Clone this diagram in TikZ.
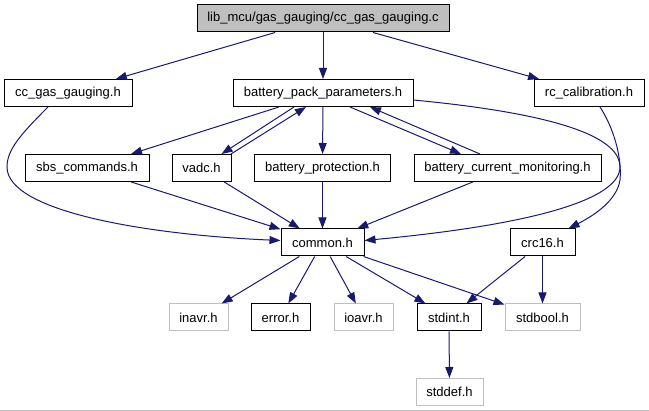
\documentclass[tikz,border=0pt]{standalone}
\usepackage{fontspec}
\setmainfont{Liberation Sans}
\usetikzlibrary{arrows.meta}
\definecolor{edgeblue}{HTML}{191970}
\definecolor{sysgray}{HTML}{BFBFBF}
\tikzstyle{every node}=[rectangle, draw=black, line width=1pt,
	                        inner sep=0pt, minimum height=27pt,
	                        font=\fontsize{13}{15}\selectfont]
\tikzstyle{sys}=[draw=sysgray]
\tikzstyle{incl}=[draw=edgeblue, line width=1pt,
	                  -{Triangle[length=11pt,width=8pt]}]

\begin{document}
\begin{tikzpicture}[x=1pt,y=-1pt]
\useasboundingbox (0,0) rectangle (649,411);
\draw[sysgray] (0,410.5) -- (649,410.5);
% files
\node (ccfile) at (323,18.5) [fill=sysgray, minimum width=252pt] {lib\_mcu/gas\_gauging/cc\_gas\_gauging.c};
\node (ccgas) at (68,93) [minimum width=128pt] {cc\_gas\_gauging.h};
\node (bpp) at (323,93) [minimum width=180pt] {battery\_pack\_parameters.h};
\node (rccal) at (589,93) [minimum width=110pt] {rc\_calibration.h};
\node (sbs) at (87,168) [minimum width=124pt] {sbs\_commands.h};
\node (vadc) at (201.5,168) [minimum width=59pt] {vadc.h};
\node (bprot) at (322.5,168) [minimum width=136pt] {battery\_protection.h};
\node (bcm) at (507.5,168) [minimum width=187pt] {battery\_current\_monitoring.h};
\node (common) at (322.5,242.5) [minimum width=83pt] {common.h};
\node (crc) at (542.5,242.5) [minimum width=65pt] {crc16.h};
\node (inavr) at (198.5,317.5) [sys, minimum width=59pt] {inavr.h};
\node (error) at (280.5,317.5) [minimum width=59pt] {error.h};
\node (ioavr) at (363.5,317.5) [sys, minimum width=59pt] {ioavr.h};
\node (stdint) at (449,317.5) [minimum width=64pt] {stdint.h};
\node (stdbool) at (542.5,317.5) [sys, minimum width=75pt] {stdbool.h};
\node (stddef) at (449.5,392) [sys, minimum width=67pt] {stddef.h};
% includes
\draw[incl] (ccfile) -- (ccgas);
\draw[incl] (ccfile) -- (bpp);
\draw[incl] (ccfile) -- (rccal);
\draw[incl] ([xshift=-20pt]ccgas.south) .. controls (20,135) and (7,150) .. (7,167)
	.. controls (7,212) and (150,235) .. ([yshift=2pt]common.west);
\draw[incl] (bpp) -- (sbs);
\draw[incl] ([xshift=-29pt]bpp.south) -- ([xshift=20pt]vadc.north);
\draw[incl] ([xshift=29.5pt]vadc.north) -- ([xshift=-17pt]bpp.south);
\draw[incl] (bpp) -- (bprot);
\draw[incl] ([xshift=27pt]bpp.south) -- ([xshift=-46.5pt]bcm.north);
\draw[incl] ([xshift=-27.5pt]bcm.north) -- ([xshift=47pt]bpp.south);
\draw[incl] ([yshift=-7pt]bpp.east) .. controls (570,115) and (620,140) .. (620,167)
	.. controls (620,200) and (530,225) .. ([yshift=2pt]common.east);
\draw[incl] ([xshift=11pt]rccal.south) .. controls (615,130) and (622,160) .. (620,180)
	.. controls (617,200) and (595,215) .. ([xshift=26pt]crc.north);
\foreach \src in {sbs,vadc,bprot,bcm}
	\draw[incl] (\src) -- (common);
\foreach \dst in {inavr,error,ioavr,stdint,stdbool}
	\draw[incl] (common) -- (\dst);
\draw[incl] (crc) -- (stdint);
\draw[incl] (crc) -- (stdbool);
\draw[incl] (stdint) -- (stddef);
\end{tikzpicture}
\end{document}
